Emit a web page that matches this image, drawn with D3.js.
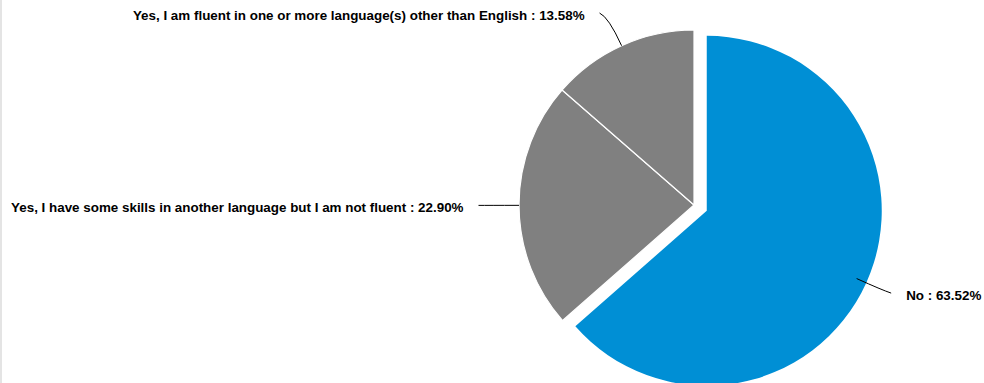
<!DOCTYPE html>
<html>
<head>
<meta charset="utf-8">
<script src="https://cdn.jsdelivr.net/npm/d3@7"></script>
<style>
  html, body { margin: 0; padding: 0; background: #fff; }
  svg { display: block; }
</style>
</head>
<body>
<svg id="chart" width="984" height="383"></svg>
<script>
// Survey answers and their shares (percent)
const categories = [
  "No",
  "Yes, I have some skills in another language but I am not fluent",
  "Yes, I am fluent in one or more language(s) other than English"
];
const values = [63.52, 22.90, 13.58];
const colors = ["#008fd5", "#808080", "#808080"];
const exploded = [true, false, false];

const svg = d3.select("#chart");
const W = 984, H = 383;

// faint frame edge on the left
svg.append("rect").attr("x", 0).attr("y", 0).attr("width", 2).attr("height", H).attr("fill", "#e4e4e4");

const cx = 694, cy = 205, R = 175, explode = 14;

const pie = d3.pie().sort(null).value(d => d.value);
const arcs = pie(categories.map((c, i) => ({ name: c, value: values[i], color: colors[i], exploded: exploded[i] })));
const arc = d3.arc().innerRadius(0).outerRadius(R);

const g = svg.append("g").attr("transform", `translate(${cx},${cy})`);

const mid = d => (d.startAngle + d.endAngle) / 2;
const offset = d => d.data.exploded ? [Math.sin(mid(d)) * explode, -Math.cos(mid(d)) * explode] : [0, 0];
const polar = (a, r) => [Math.sin(a) * r, -Math.cos(a) * r];

g.selectAll("path.slice")
  .data(arcs)
  .join("path")
  .attr("class", "slice")
  .attr("transform", d => `translate(${offset(d)})`)
  .attr("d", arc)
  .attr("fill", d => d.data.color)
  .attr("stroke", d => d.data.exploded ? "none" : "#fff")
  .attr("stroke-width", 1.2)
  .attr("stroke-linejoin", "round");

// leader lines and labels
const fmt = d3.format(".2f");
arcs.forEach(d => {
  const a = mid(d);
  const o = offset(d);
  const right = Math.sin(a) > 0.05;
  const startR = d.data.exploded ? R * 0.94 : R;
  const elbowR = d.data.exploded ? R * 1.1 : R * 1.18;
  const s = polar(a, startR), e = polar(a, elbowR);
  const start = [s[0] + o[0], s[1] + o[1]];
  const elbow = [e[0] + o[0], e[1] + o[1]];
  const dir = right ? 1 : -1;
  const c = Math.cos(a);
  const dy = Math.abs(c) < 0.1 ? 0 : (c > 0.3 ? -4 : 3);
  const tail = [elbow[0] + dir * 9, elbow[1] + dy];
  const p = d3.path();
  p.moveTo(start[0], start[1]);
  p.quadraticCurveTo(elbow[0], elbow[1], tail[0], tail[1]);
  g.append("path").attr("d", p.toString())
    .attr("fill", "none").attr("stroke", "#000").attr("stroke-width", 1);
  g.append("text")
    .attr("x", tail[0] + dir * 15)
    .attr("y", tail[1] + 3)
    .attr("dominant-baseline", "middle")
    .attr("text-anchor", right ? "start" : "end")
    .attr("font-family", "Liberation Sans, Arial, sans-serif")
    .attr("font-weight", "bold")
    .attr("font-size", 13.4)
    .attr("fill", "#000")
    .text(`${d.data.name} : ${fmt(d.data.value)}%`);
});
</script>
</body>
</html>
